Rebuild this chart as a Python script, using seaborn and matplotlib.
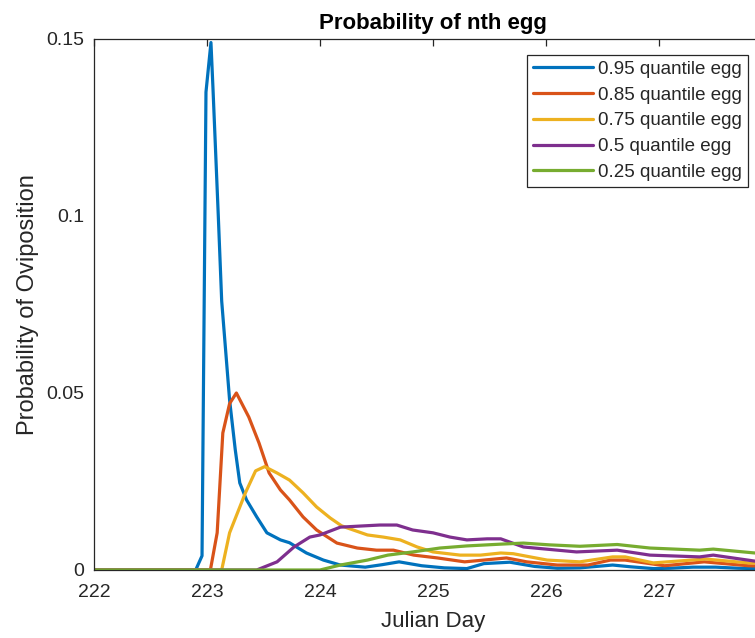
import matplotlib
matplotlib.use("Agg")
import matplotlib.pyplot as plt
import numpy as np
import pandas as pd
import seaborn as sns

# Oviposition probability curves for each egg quantile (Julian day, probability)
days_q95 = [222.0, 222.90, 222.956, 222.991, 223.035, 223.053, 223.10, 223.13, 223.20,
            223.25, 223.29, 223.35, 223.44, 223.53, 223.65, 223.73, 223.88, 224.03,
            224.18, 224.40, 224.55, 224.70, 224.90, 225.10, 225.30, 225.45, 225.68,
            225.90, 226.10, 226.30, 226.59, 226.75, 226.95, 227.10, 227.30, 227.50,
            227.70, 228.0]
prob_q95 = [0.0, 0.0, 0.004, 0.135, 0.149, 0.136, 0.100, 0.076, 0.048,
            0.034, 0.0246, 0.0198, 0.015, 0.0105, 0.0085, 0.0077, 0.0048, 0.0028,
            0.0014, 0.0008, 0.0015, 0.0023, 0.0012, 0.0006, 0.0004, 0.0018, 0.0022,
            0.0010, 0.0005, 0.0006, 0.0014, 0.0009, 0.0004, 0.0005, 0.0008, 0.0008,
            0.0005, 0.0003]

days_q85 = [222.0, 223.03, 223.09, 223.14, 223.20, 223.26, 223.37, 223.46, 223.55,
            223.65, 223.73, 223.85, 223.97, 224.15, 224.33, 224.50, 224.65, 224.83,
            225.04, 225.28, 225.45, 225.65, 225.83, 226.10, 226.37, 226.57, 226.70,
            227.05, 227.40, 227.79, 228.0]
prob_q85 = [0.0, 0.0, 0.0105, 0.0387, 0.047, 0.050, 0.0432, 0.0359, 0.0274,
            0.0226, 0.0198, 0.015, 0.0113, 0.0076, 0.0062, 0.0056, 0.0056, 0.0042,
            0.0034, 0.0023, 0.0028, 0.0034, 0.0023, 0.0014, 0.0014, 0.0028, 0.0028,
            0.0012, 0.0023, 0.0012, 0.0010]

days_q75 = [222.0, 223.13, 223.20, 223.34, 223.43, 223.51, 223.62, 223.73, 223.85,
            223.97, 224.09, 224.19, 224.24, 224.42, 224.56, 224.71, 224.86, 225.00,
            225.24, 225.42, 225.60, 225.71, 226.01, 226.30, 226.59, 226.70, 226.95,
            227.41, 227.79, 228.0]
prob_q75 = [0.0, 0.0, 0.0105, 0.0218, 0.028, 0.0292, 0.0274, 0.0254, 0.0218,
            0.0178, 0.0147, 0.0125, 0.0119, 0.0099, 0.0093, 0.0085, 0.0065, 0.0051,
            0.0042, 0.0042, 0.0048, 0.0046, 0.0028, 0.0023, 0.0037, 0.0037, 0.0020,
            0.0031, 0.0020, 0.0018]

days_q50 = [222.0, 223.44, 223.62, 223.77, 223.91, 224.00, 224.18, 224.35, 224.53,
            224.68, 224.82, 225.00, 225.15, 225.30, 225.48, 225.60, 225.80, 226.27,
            226.63, 226.92, 227.36, 227.48, 227.85, 228.0]
prob_q50 = [0.0, 0.0, 0.0023, 0.0065, 0.0093, 0.0099, 0.0121, 0.0124, 0.0127,
            0.0127, 0.0113, 0.0105, 0.0093, 0.0085, 0.0088, 0.0088, 0.0065, 0.0051,
            0.0056, 0.0042, 0.0037, 0.0042, 0.0025, 0.0022]

days_q25 = [222.0, 224.00, 224.18, 224.42, 224.60, 224.82, 225.06, 225.30, 225.60,
            225.80, 226.03, 226.30, 226.63, 226.92, 227.36, 227.48, 227.85, 228.0]
prob_q25 = [0.0, 0.0, 0.0014, 0.0028, 0.0042, 0.0051, 0.0062, 0.0068, 0.0073,
            0.0076, 0.0071, 0.0067, 0.0072, 0.0062, 0.0056, 0.0059, 0.0048, 0.0045]

series_labels = ["0.95 quantile egg", "0.85 quantile egg", "0.75 quantile egg",
                 "0.5 quantile egg", "0.25 quantile egg"]
series_colors = ["#0072BD", "#D95319", "#EDB120", "#7E2F8E", "#77AC30"]

x_ticks = [222, 223, 224, 225, 226, 227]
y_ticks = [0, 0.05, 0.1, 0.15]
y_tick_labels = ["0", "0.05", "0.1", "0.15"]

all_days = [days_q95, days_q85, days_q75, days_q50, days_q25]
all_probs = [prob_q95, prob_q85, prob_q75, prob_q50, prob_q25]

frames = []
for label, d, p in zip(series_labels, all_days, all_probs):
    frames.append(pd.DataFrame({"day": d, "prob": p, "series": label}))
df = pd.concat(frames, ignore_index=True)

sns.set_theme(style="white")
plt.rcParams["font.family"] = ["Liberation Sans", "DejaVu Sans"]
ink = "#262626"

fig = plt.figure(figsize=(7.55, 6.38), dpi=100)
# axes run past the right edge of the canvas
ax = fig.add_axes([0.1245, 0.1066, 0.898, 0.8323])

sns.lineplot(data=df, x="day", y="prob", hue="series", hue_order=series_labels,
             palette=series_colors, sort=False, estimator=None, linewidth=2.3,
             legend=False, ax=ax)

ax.set_xlim(222, 228)
ax.set_ylim(0, 0.15)
ax.set_xticks(x_ticks)
ax.set_yticks(y_ticks)
ax.set_yticklabels(y_tick_labels)
ax.tick_params(axis="both", direction="in", length=5, width=0.9, colors=ink,
               labelsize=14, top=True, right=True)
ax.tick_params(axis="x", pad=10)
ax.tick_params(axis="y", pad=7)
for sp in ax.spines.values():
    sp.set_color(ink)
    sp.set_linewidth(0.9)
    sp.set_visible(True)

ax.set_xlabel("Julian Day", fontsize=16, color=ink, labelpad=7)
ax.set_ylabel("Probability of Oviposition", fontsize=17, color=ink, labelpad=5)
ax.set_title("Probability of nth egg", fontsize=16, fontweight="bold", color="black", pad=7)

handles = ax.get_lines()[:len(series_labels)]
leg = ax.legend(handles, series_labels, loc="upper right",
                bbox_to_anchor=(0.9646, 0.970), borderaxespad=0,
                fontsize=13.5, handlelength=3.2, handletextpad=0.27,
                labelspacing=0.46, borderpad=0.31, frameon=True, fancybox=False,
                framealpha=1, edgecolor=ink)
leg.get_frame().set_linewidth(0.9)
for t in leg.get_texts():
    t.set_color(ink)

fig.savefig("out.png", dpi=100)
